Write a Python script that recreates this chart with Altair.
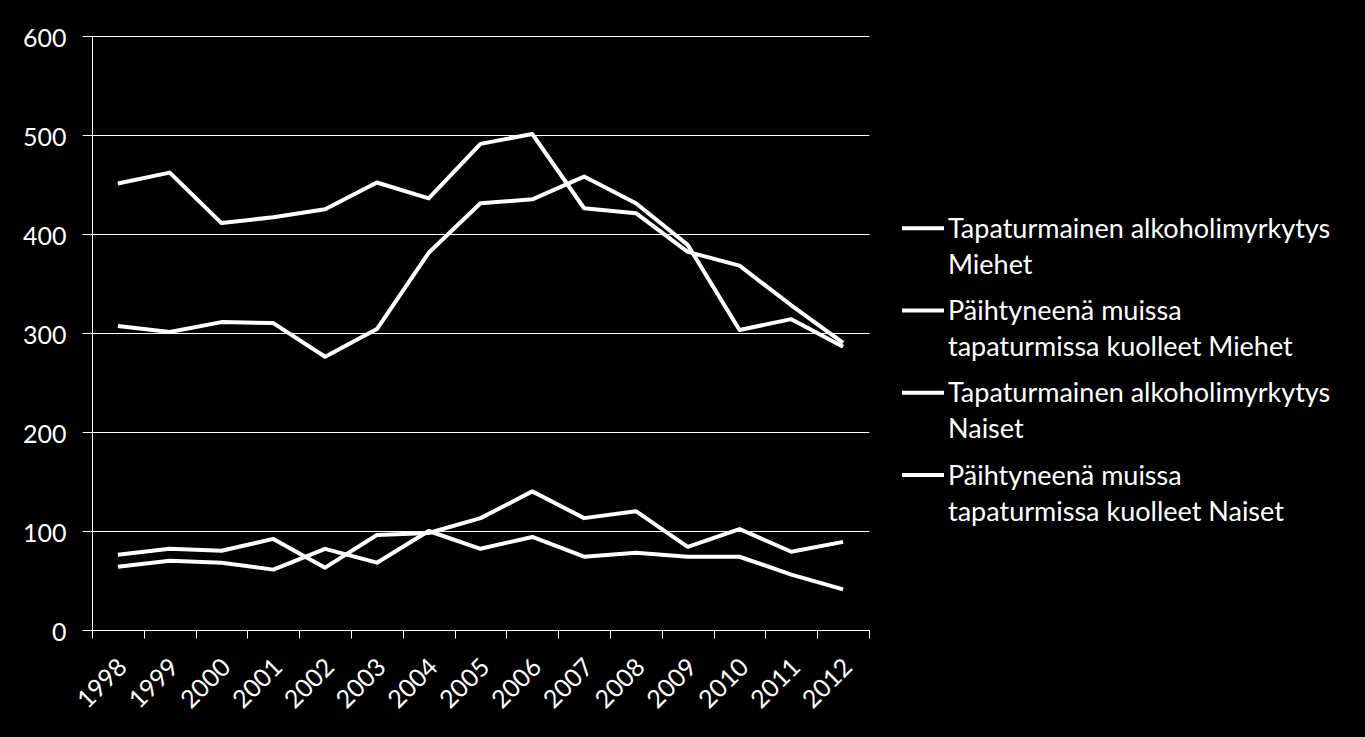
import altair as alt
import pandas as pd

years = [str(y) for y in range(1998, 2013)]

series_names = [
    "Tapaturmainen alkoholimyrkytys\nMiehet",
    "Päihtyneenä muissa\ntapaturmissa kuolleet Miehet",
    "Tapaturmainen alkoholimyrkytys\nNaiset",
    "Päihtyneenä muissa\ntapaturmissa kuolleet Naiset",
]

alko_miehet = [451, 462, 411, 417, 425, 452, 436, 491, 501, 426, 421, 382, 368, 328, 290]
paiht_miehet = [307, 301, 311, 310, 276, 304, 381, 431, 435, 458, 431, 389, 303, 314, 286]
alko_naiset = [64, 70, 68, 61, 82, 68, 100, 82, 94, 74, 78, 74, 74, 56, 41]
paiht_naiset = [76, 82, 80, 92, 63, 96, 98, 113, 140, 113, 120, 84, 102, 79, 89]

rows = []
for name, vals in zip(series_names, [alko_miehet, paiht_miehet, alko_naiset, paiht_naiset]):
    for y, v in zip(years, vals):
        rows.append({"Vuosi": y, "Sarja": name, "Arvo": v})
df = pd.DataFrame(rows)

FONT = "Lato"

chart = alt.Chart(df).mark_line(strokeWidth=4, strokeJoin="round").encode(
    x=alt.X(
        "Vuosi:O",
        bandPosition=0.5,
        sort=years,
        scale=alt.Scale(type="band", paddingInner=0, paddingOuter=0),
        axis=alt.Axis(
            title=None,
            labelAngle=315,
            labelFontSize=25,
            labelFont=FONT,
            labelColor="white",
            tickBand="extent",
            tickColor="white",
            tickSize=8,
            domainColor="white",
            labelPadding=16,
            labelOffset=-4,
            grid=False,
        ),
    ),
    y=alt.Y(
        "Arvo:Q",
        scale=alt.Scale(domain=[0, 600], nice=False),
        axis=alt.Axis(
            title=None,
            values=[0, 100, 200, 300, 400, 500, 600],
            labelFontSize=25,
            labelFont=FONT,
            labelColor="white",
            labelPadding=16,
            labelOffset=2,
            tickColor="white",
            tickSize=10,
            domainColor="white",
            gridColor="white",
            gridWidth=1,
        ),
    ),
    color=alt.Color(
        "Sarja:N",
        sort=series_names,
        scale=alt.Scale(domain=series_names, range=["white"] * 4),
        legend=alt.Legend(
            title=None,
            orient="none",
            legendX=808,
            legendY=179,
            padding=0,
            symbolType="M-1,-0.46L1,-0.46",
            symbolSize=1764,
            symbolStrokeWidth=4,
            symbolStrokeColor="white",
            symbolFillColor="transparent",
            labelExpr="split(datum.label, '\\n')",
            labelFont=FONT,
            labelFontSize=27,
            labelColor="white",
            labelBaseline="alphabetic",
            labelLimit=600,
            labelOffset=2,
            rowPadding=18.2,
        ),
    ),
).properties(
    width=777,
    height=594,
    background="black",
    padding={"left": 92, "top": 36, "right": 496, "bottom": 107},
    autosize=alt.AutoSizeParams(type="none"),
).configure(
    style={"guide-label": {"lineHeight": 36}},
    view=alt.ViewConfig(stroke=None),
)

chart.save("out.html", embed_options={"renderer": "svg", "actions": False})
